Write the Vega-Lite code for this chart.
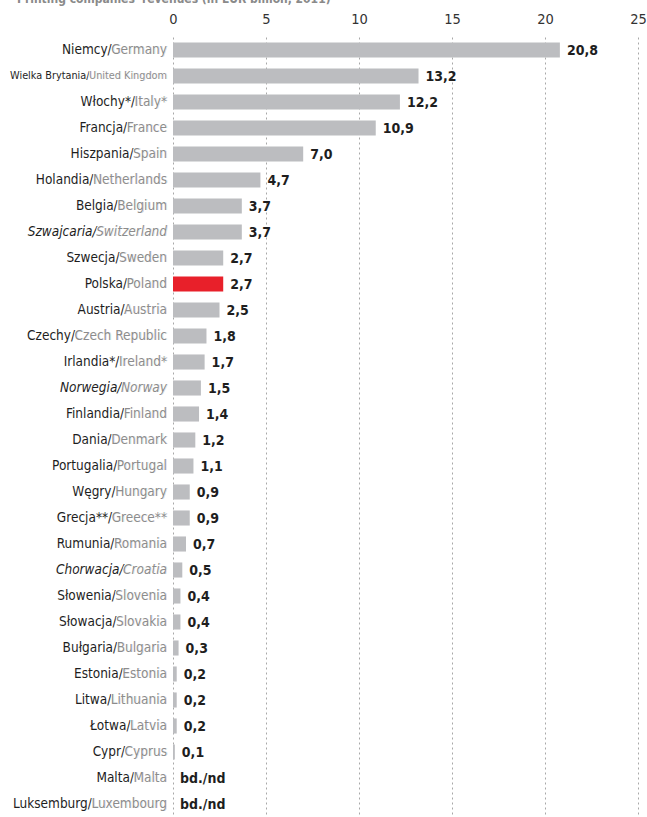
{
  "$schema": "https://vega.github.io/schema/vega-lite/v6.json",
  "autosize": {"type": "none"},
  "padding": {"left": 173, "top": 37, "right": 9, "bottom": 0},
  "width": 465,
  "height": 780,
  "background": "white",
  "title": {
    "text": "Printing companies' revenues (in EUR billion, 2011)",
    "anchor": "start",
    "frame": "group",
    "fontSize": 12,
    "fontWeight": "bold",
    "color": "#8a8a8a",
    "offset": 5,
    "dx": -156
  },
  "config": {"view": {"stroke": null}, "font": "'Liberation Sans Narrow', 'DejaVu Sans Condensed', 'Roboto', sans-serif"},
  "data": {
    "values": [
      {"label": "Niemcy/Germany", "pl": "Niemcy", "en": "Germany", "it": false, "value": 20.8, "txt": "20,8"},
      {"label": "Wielka Brytania/United Kingdom", "pl": "Wielka Brytania", "en": "United Kingdom", "it": false, "value": 13.2, "txt": "13,2"},
      {"label": "Włochy*/Italy*", "pl": "Włochy*", "en": "Italy*", "it": false, "value": 12.2, "txt": "12,2"},
      {"label": "Francja/France", "pl": "Francja", "en": "France", "it": false, "value": 10.9, "txt": "10,9"},
      {"label": "Hiszpania/Spain", "pl": "Hiszpania", "en": "Spain", "it": false, "value": 7.0, "txt": "7,0"},
      {"label": "Holandia/Netherlands", "pl": "Holandia", "en": "Netherlands", "it": false, "value": 4.7, "txt": "4,7"},
      {"label": "Belgia/Belgium", "pl": "Belgia", "en": "Belgium", "it": false, "value": 3.7, "txt": "3,7"},
      {"label": "Szwajcaria/Switzerland", "pl": "Szwajcaria", "en": "Switzerland", "it": true, "value": 3.7, "txt": "3,7"},
      {"label": "Szwecja/Sweden", "pl": "Szwecja", "en": "Sweden", "it": false, "value": 2.7, "txt": "2,7"},
      {"label": "Polska/Poland", "pl": "Polska", "en": "Poland", "it": false, "value": 2.7, "txt": "2,7"},
      {"label": "Austria/Austria", "pl": "Austria", "en": "Austria", "it": false, "value": 2.5, "txt": "2,5"},
      {"label": "Czechy/Czech Republic", "pl": "Czechy", "en": "Czech Republic", "it": false, "value": 1.8, "txt": "1,8"},
      {"label": "Irlandia*/Ireland*", "pl": "Irlandia*", "en": "Ireland*", "it": false, "value": 1.7, "txt": "1,7"},
      {"label": "Norwegia/Norway", "pl": "Norwegia", "en": "Norway", "it": true, "value": 1.5, "txt": "1,5"},
      {"label": "Finlandia/Finland", "pl": "Finlandia", "en": "Finland", "it": false, "value": 1.4, "txt": "1,4"},
      {"label": "Dania/Denmark", "pl": "Dania", "en": "Denmark", "it": false, "value": 1.2, "txt": "1,2"},
      {"label": "Portugalia/Portugal", "pl": "Portugalia", "en": "Portugal", "it": false, "value": 1.1, "txt": "1,1"},
      {"label": "Węgry/Hungary", "pl": "Węgry", "en": "Hungary", "it": false, "value": 0.9, "txt": "0,9"},
      {"label": "Grecja**/Greece**", "pl": "Grecja**", "en": "Greece**", "it": false, "value": 0.9, "txt": "0,9"},
      {"label": "Rumunia/Romania", "pl": "Rumunia", "en": "Romania", "it": false, "value": 0.7, "txt": "0,7"},
      {"label": "Chorwacja/Croatia", "pl": "Chorwacja", "en": "Croatia", "it": true, "value": 0.5, "txt": "0,5"},
      {"label": "Słowenia/Slovenia", "pl": "Słowenia", "en": "Slovenia", "it": false, "value": 0.4, "txt": "0,4"},
      {"label": "Słowacja/Slovakia", "pl": "Słowacja", "en": "Slovakia", "it": false, "value": 0.4, "txt": "0,4"},
      {"label": "Bułgaria/Bulgaria", "pl": "Bułgaria", "en": "Bulgaria", "it": false, "value": 0.3, "txt": "0,3"},
      {"label": "Estonia/Estonia", "pl": "Estonia", "en": "Estonia", "it": false, "value": 0.2, "txt": "0,2"},
      {"label": "Litwa/Lithuania", "pl": "Litwa", "en": "Lithuania", "it": false, "value": 0.2, "txt": "0,2"},
      {"label": "Łotwa/Latvia", "pl": "Łotwa", "en": "Latvia", "it": false, "value": 0.2, "txt": "0,2"},
      {"label": "Cypr/Cyprus", "pl": "Cypr", "en": "Cyprus", "it": false, "value": 0.1, "txt": "0,1"},
      {"label": "Malta/Malta", "pl": "Malta", "en": "Malta", "it": false, "value": null, "txt": "bd./nd"},
      {"label": "Luksemburg/Luxembourg", "pl": "Luksemburg", "en": "Luxembourg", "it": false, "value": null, "txt": "bd./nd"}
    ]
  },
  "encoding": {
    "y": {
      "field": "label",
      "type": "nominal",
      "sort": null,
      "scale": {"paddingInner": 0.42, "paddingOuter": 0.21},
      "axis": {
        "title": null,
        "domain": false,
        "ticks": false,
        "tickSize": 0,
        "grid": false,
        "zindex": 0,
        "labelPadding": 6,
        "labelLimit": 400,
        "labelColor": "#1e1e1e",
        "labelFontSize": {"condition": {"test": "datum.value === 'Wielka Brytania/United Kingdom'", "value": 10.8}, "value": 13.5},
        "labelFontStyle": {"condition": {"test": "datum.value === 'Szwajcaria/Switzerland' || datum.value === 'Norwegia/Norway' || datum.value === 'Chorwacja/Croatia'", "value": "italic"}, "value": "normal"}
      }
    }
  },
  "layer": [
    {
      "mark": {"type": "bar"},
      "encoding": {
        "x": {
          "field": "value",
          "type": "quantitative",
          "scale": {"domain": [0, 25], "nice": false},
          "axis": {
            "orient": "top",
            "title": null,
            "values": [0, 5, 10, 15, 20, 25],
            "domain": false,
            "ticks": false,
            "tickSize": 0,
            "labelPadding": 11,
            "labelFlush": false,
            "labelFontSize": 14.5,
            "labelColor": "#333333",
            "grid": true,
            "gridColor": "#a8a8a8",
            "gridDash": [2, 3],
            "gridWidth": 1
          }
        },
        "color": {"condition": {"test": "datum.pl === 'Polska'", "value": "#e8202a"}, "value": "#bcbdc0"}
      }
    },
    {
      "transform": [{"calculate": "datum.value == null ? 0 : datum.value", "as": "xpos"}],
      "mark": {"type": "text", "align": "left", "baseline": "middle", "dx": 7, "dy": 1, "fontWeight": "bold", "fontSize": 14, "color": "#1e1e1e"},
      "encoding": {
        "x": {"field": "xpos", "type": "quantitative"},
        "text": {"field": "txt"}
      }
    },
    {
      "transform": [{"filter": "!datum.it"}],
      "mark": {"type": "text", "align": "right", "baseline": "middle", "dx": -6, "color": "white", "stroke": "white", "strokeWidth": 1.6, "zindex": 4},
      "encoding": {
        "x": {"datum": 0},
        "text": {"field": "en"},
        "size": {"condition": {"test": "datum.pl === 'Wielka Brytania'", "value": 10.8}, "value": 13.5}
      }
    },
    {
      "transform": [{"filter": "datum.it"}],
      "mark": {"type": "text", "align": "right", "baseline": "middle", "dx": -6, "color": "white", "stroke": "white", "strokeWidth": 1.6, "fontStyle": "italic", "zindex": 4},
      "encoding": {
        "x": {"datum": 0},
        "text": {"field": "en"},
        "size": {"value": 13.5}
      }
    },
    {
      "transform": [{"filter": "!datum.it"}],
      "mark": {"type": "text", "align": "right", "baseline": "middle", "dx": -6, "color": "#8c8c8c", "zindex": 5},
      "encoding": {
        "x": {"datum": 0},
        "text": {"field": "en"},
        "size": {"condition": {"test": "datum.pl === 'Wielka Brytania'", "value": 10.8}, "value": 13.5}
      }
    },
    {
      "transform": [{"filter": "datum.it"}],
      "mark": {"type": "text", "align": "right", "baseline": "middle", "dx": -6, "color": "#8c8c8c", "fontStyle": "italic", "zindex": 5},
      "encoding": {
        "x": {"datum": 0},
        "text": {"field": "en"},
        "size": {"value": 13.5}
      }
    }
  ]
}
